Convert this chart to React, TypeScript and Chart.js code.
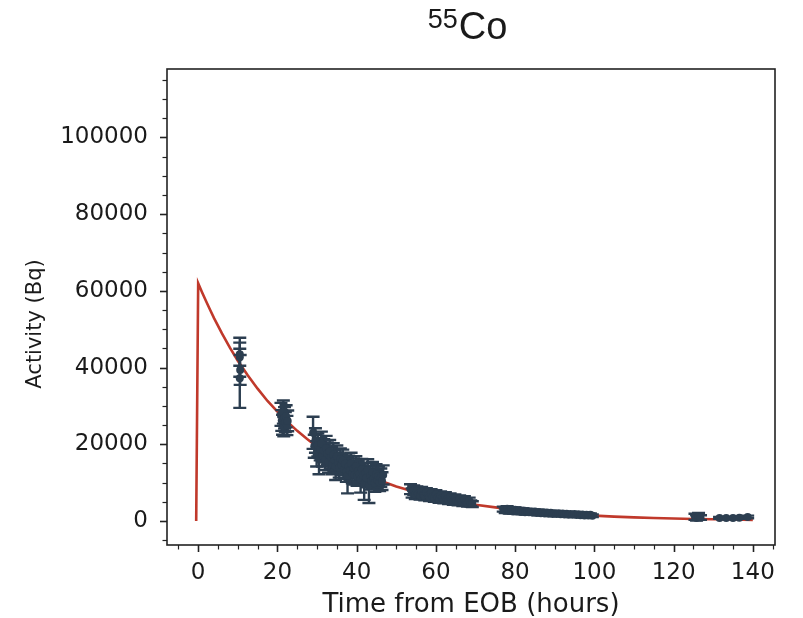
import React, { useEffect, useRef } from 'react';
import { Chart, registerables } from 'chart.js';

Chart.register(...registerables);

// ---- Axis ticks ----
const xTicks = [0, 20, 40, 60, 80, 100, 120, 140];
const yTicks = [0, 20000, 40000, 60000, 80000, 100000];
const xRange = [-7.87, 145.6];
const yRange = [-6260, 117860];

// ---- Fitted decay curve ----
const curveX = [-0.5, 0, 1, 2, 3, 4, 6, 8, 10, 12.5, 15, 17.5, 20, 22.5, 25, 27.5, 30, 35, 40, 45, 50, 55, 60, 65, 70, 75, 80, 85, 90, 95, 100, 105, 110, 115, 120, 125, 130, 135, 140];
const curveY = [0, 62000, 59600, 57300, 55100, 52900, 48900, 45200, 41800, 38000, 34500, 31300, 28500, 25900, 23500, 21400, 19400, 16000, 13200, 10900, 9000, 7500, 6200, 5100, 4250, 3550, 2950, 2450, 2050, 1700, 1400, 1150, 950, 780, 640, 530, 440, 370, 300];

// ---- Measured activity points ----
const measX = [
  10.5, 10.5, 10.5, 10.6,
  20.9, 21.1, 21.3, 21.5, 21.6, 21.8, 22.0, 22.2, 22.4, 22.6,
  29.0, 29.3, 29.6, 29.9, 30.2, 30.5, 30.8, 31.1, 31.4, 31.7, 32.0, 32.3, 32.6, 32.9, 33.2, 33.5, 33.8, 34.1, 34.4, 34.7,
  35.0, 35.3, 35.6, 35.9, 36.2, 36.5, 36.8, 37.1, 37.4, 37.7, 38.0, 38.3, 38.6, 38.9, 39.2, 39.5, 39.8, 40.1, 40.4, 40.7,
  41.0, 41.3, 41.6, 41.9, 42.2, 42.5, 42.8, 43.1, 43.4, 43.7, 44.0, 44.3, 44.6, 44.9, 45.2, 45.5, 45.8, 46.1, 46.4, 46.7,
  53.6, 54.0, 54.4, 54.8, 55.2, 55.6, 56.0, 56.4, 56.8, 57.2, 57.6, 58.0, 58.4, 58.8, 59.2, 59.6, 60.0, 60.4, 60.8, 61.2,
  61.6, 62.0, 62.4, 62.8, 63.2, 63.6, 64.0, 64.4, 64.8, 65.2, 65.6, 66.0, 66.4, 66.8, 67.2, 67.6, 68.0, 68.4, 68.8, 69.2,
  77.0, 77.5, 78.0, 78.5, 79.0, 79.5, 80.0, 80.5, 81.0, 81.5, 82.0, 82.5, 83.0, 83.5, 84.0, 84.5, 85.0, 85.5, 86.0, 86.5,
  87.0, 87.5, 88.0, 88.5, 89.0, 89.5, 90.0, 90.5, 91.0, 91.5, 92.0, 92.5, 93.0, 93.5, 94.0, 94.5, 95.0, 95.5, 96.0, 96.5,
  97.0, 97.5, 98.0, 98.5, 99.0, 99.5,
  125.4, 125.8, 126.3, 126.8,
  131.6, 133.3, 135.0, 136.6, 138.7,
];
const measY = [
  42700, 43500, 37200, 39400,
  27800, 26200, 25100, 28400, 24600, 26900, 25800, 27300, 24900, 26100,
  23000, 19500, 21000, 17500, 19800, 16200, 18700, 20200, 17000, 18300, 16000, 19000, 17600, 15400, 18100, 16500, 14800, 17300, 15800, 14200,
  16800, 15200, 13900, 16100, 14600, 15700, 13500, 14900, 12800, 11800, 14300, 13100, 15000, 12400, 13700, 12000, 14200, 11600, 13000, 12300,
  10900, 13500, 11900, 9600, 12600, 11200, 13300, 9200, 11800, 10500, 12700, 11000, 9900, 12200, 10700, 11700, 10100, 11300, 10400, 12000,
  8300, 7300, 8000, 6900, 7800, 7100, 6700, 7700, 6800, 6500, 7400, 6600, 6200, 7200, 6300, 6000, 7000, 6100, 5700, 6700,
  5900, 5500, 6500, 5700, 5300, 6200, 5400, 5100, 6000, 5200, 4900, 5800, 5000, 4700, 5600, 4800, 4500, 5300, 4600, 4400,
  3100, 2700, 3200, 2600, 3000, 2500, 2900, 2450, 2800, 2350, 2700, 2300, 2600, 2250, 2500, 2150, 2450, 2100, 2350, 2050,
  2300, 1950, 2200, 1900, 2150, 1850, 2050, 1800, 2000, 1750, 1950, 1700, 1900, 1650, 1850, 1600, 1800, 1550, 1750, 1500,
  1700, 1450, 1650, 1400, 1600, 1350,
  1100, 800, 1200, 900,
  800, 750, 800, 850, 1050,
];
const measErr = [
  5100, 3000, 7700, 3900,
  3000, 2700, 2600, 3000, 2500, 2800, 2600, 2900, 2500, 2700,
  4200, 3000, 3200, 3300, 3000, 4000, 2900, 3100, 2800, 3000, 2700, 3200, 2900, 2800, 3000, 2800, 2600, 3000, 2700, 3500,
  2900, 2700, 2600, 2800, 2600, 2900, 2500, 2700, 2600, 4600, 2700, 2500, 2800, 2600, 2600, 2500, 2700, 2400, 2600, 2500,
  3500, 2700, 2500, 4100, 2600, 2400, 2800, 4500, 2500, 2300, 2700, 2400, 2300, 2600, 2400, 2500, 2300, 2400, 2300, 2500,
  1300, 1200, 1250, 1150, 1200, 1150, 1100, 1200, 1100, 1100, 1150, 1050, 1000, 1100, 1000, 1000, 1050, 950, 950, 1000,
  950, 900, 1000, 900, 850, 950, 850, 850, 900, 850, 800, 850, 800, 800, 850, 800, 750, 800, 750, 750,
  650, 600, 650, 600, 600, 580, 600, 560, 580, 550, 560, 540, 550, 520, 540, 500, 520, 500, 500, 480,
  500, 460, 480, 450, 460, 440, 450, 430, 440, 420, 430, 410, 420, 400, 410, 390, 400, 380, 390, 370,
  380, 360, 370, 350, 360, 350,
  800, 700, 900, 600,
  250, 250, 250, 250, 350,
];

const POINT_COLOR = '#2c3e50';
const CURVE_COLOR = '#c0392b';
const TEXT_COLOR = '#1a1a1a';
const TICK_FONT = 'DejaVu Sans';

const errorBarPlugin = {
  id: 'errorBars',
  beforeDatasetDraw(chart: any, args: any) {
    const ds = chart.data.datasets[args.index];
    if (!ds.errors) return;
    const { ctx } = chart;
    const x = chart.scales.x;
    const y = chart.scales.y;
    ctx.save();
    ctx.strokeStyle = POINT_COLOR;
    ctx.lineWidth = 2.4;
    ds.data.forEach((p: any, i: number) => {
      const e = ds.errors[i];
      const px = x.getPixelForValue(p.x);
      const top = y.getPixelForValue(p.y + e);
      const bot = y.getPixelForValue(p.y - e);
      ctx.beginPath();
      ctx.moveTo(px, top);
      ctx.lineTo(px, bot);
      ctx.moveTo(px - 6.5, top);
      ctx.lineTo(px + 6.5, top);
      ctx.moveTo(px - 6.5, bot);
      ctx.lineTo(px + 6.5, bot);
      ctx.stroke();
    });
    ctx.restore();
  },
};

const framePlugin = {
  id: 'mplFrame',
  afterDraw(chart: any) {
    const { ctx, chartArea: a } = chart;
    const x = chart.scales.x;
    const y = chart.scales.y;
    ctx.save();
    ctx.strokeStyle = '#222';
    for (let v = -5; v <= 145; v += 5) {
      const px = Math.round(x.getPixelForValue(v)) + 0.5;
      if (px < a.left - 1 || px > a.right + 1) continue;
      const major = xTicks.includes(v);
      ctx.lineWidth = major ? 1.6 : 1.2;
      ctx.beginPath();
      ctx.moveTo(px, a.bottom);
      ctx.lineTo(px, a.bottom + (major ? 7 : 4.5));
      ctx.stroke();
    }
    for (let v = -5000; v <= 115000; v += 5000) {
      const py = Math.round(y.getPixelForValue(v)) + 0.5;
      if (py < a.top - 1 || py > a.bottom + 1) continue;
      const major = yTicks.includes(v);
      ctx.lineWidth = major ? 1.6 : 1.2;
      ctx.beginPath();
      ctx.moveTo(a.left, py);
      ctx.lineTo(a.left - (major ? 7 : 4.5), py);
      ctx.stroke();
    }
    ctx.lineWidth = 1.6;
    ctx.strokeRect(a.left, a.top, a.right - a.left, a.bottom - a.top);

    // axis titles
    ctx.fillStyle = TEXT_COLOR;
    ctx.textAlign = 'center';
    ctx.textBaseline = 'middle';
    ctx.font = `26px "${TICK_FONT}"`;
    ctx.fillText('Time from EOB (hours)', (a.left + a.right) / 2, 605);
    ctx.save();
    ctx.translate(36, 324);
    ctx.rotate(-Math.PI / 2);
    ctx.font = `21px "${TICK_FONT}"`;
    ctx.fillText('Activity (Bq)', 0, 0);
    ctx.restore();

    // title with superscript mass number
    ctx.textAlign = 'left';
    ctx.textBaseline = 'alphabetic';
    const supFont = '27px "Liberation Sans", Arial, sans-serif';
    const mainFont = '38px "Liberation Sans", Arial, sans-serif';
    ctx.font = supFont;
    const w1 = ctx.measureText('55').width;
    ctx.font = mainFont;
    const w2 = ctx.measureText('Co').width;
    const cx = 467;
    const start = cx - (w1 + w2) / 2;
    ctx.font = supFont;
    ctx.fillText('55', start, 28);
    ctx.font = mainFont;
    ctx.fillText('Co', start + w1 + 1, 39);
    ctx.restore();
  },
};

export default function App() {
  const ref = useRef<HTMLCanvasElement | null>(null);

  useEffect(() => {
    if (!ref.current) return;
    const points = measX.map((x, i) => ({ x, y: measY[i] }));
    const curve = curveX.map((x, i) => ({ x, y: curveY[i] }));
    const chart = new Chart(ref.current, {
      type: 'scatter',
      data: {
        datasets: [
          {
            label: 'fit',
            data: curve,
            showLine: true,
            borderColor: CURVE_COLOR,
            borderWidth: 2.6,
            pointRadius: 0,
            tension: 0,
            order: 2,
          } as any,
          {
            label: 'data',
            data: points,
            backgroundColor: POINT_COLOR,
            borderColor: POINT_COLOR,
            pointRadius: 4,
            borderWidth: 0,
            order: 1,
            errors: measErr,
          } as any,
        ],
      },
      options: {
        animation: false,
        responsive: false,
        devicePixelRatio: 1,
        layout: { padding: { left: 0, right: 28, top: 69, bottom: 0 } },
        plugins: {
          legend: { display: false },
          tooltip: { enabled: false },
          title: { display: false },
        },
        scales: {
          x: {
            type: 'linear',
            min: xRange[0],
            max: xRange[1],
            grid: { display: false, drawTicks: false },
            border: { display: false },
            afterBuildTicks: (s: any) => {
              s.ticks = xTicks.map((v) => ({ value: v }));
            },
            afterFit: (s: any) => {
              s.height = 73;
            },
            ticks: {
              font: { family: TICK_FONT, size: 23 },
              color: TEXT_COLOR,
              padding: 14,
              maxRotation: 0,
              autoSkip: false,
              callback: (v: any) => String(v),
            },
          },
          y: {
            type: 'linear',
            min: yRange[0],
            max: yRange[1],
            grid: { display: false, drawTicks: false },
            border: { display: false },
            afterBuildTicks: (s: any) => {
              s.ticks = yTicks.map((v) => ({ value: v }));
            },
            afterFit: (s: any) => {
              s.width = 167;
            },
            ticks: {
              font: { family: TICK_FONT, size: 23 },
              color: TEXT_COLOR,
              padding: 19,
              autoSkip: false,
              callback: (v: any) => String(v),
            },
          },
        },
      },
      plugins: [errorBarPlugin, framePlugin],
    });
    return () => chart.destroy();
  }, []);

  return (
    <div style={{ position: 'fixed', left: 0, top: 0, width: 803, height: 618, background: '#fff' }}>
      <canvas ref={ref} width={803} height={618} style={{ display: 'block', width: 803, height: 618 }} />
    </div>
  );
}
